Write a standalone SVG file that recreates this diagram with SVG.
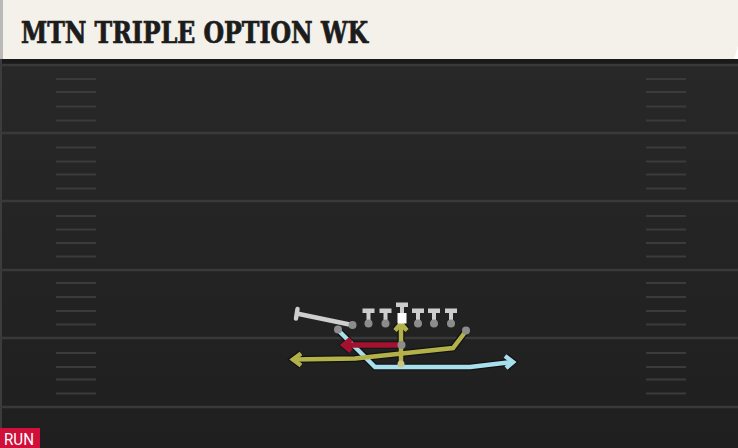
<svg xmlns="http://www.w3.org/2000/svg" width="738" height="448" viewBox="0 0 738 448">
<defs>
<linearGradient id="fieldGrad" x1="0" y1="0" x2="0" y2="1">
<stop offset="0" stop-color="#282828"/>
<stop offset="1" stop-color="#1f1f1f"/>
</linearGradient>
<style>
.yard{stroke:#393939;stroke-width:2.5}
.hash{stroke:#3b3b3b;stroke-width:2}
.route{fill:none;stroke-width:4.5;stroke-linejoin:miter;stroke-linecap:butt}
.under{fill:none;stroke:#121212;stroke-width:7;stroke-linecap:butt}
.yel{stroke:#b3b24a}
.blu{stroke:#a8dfec}
.red{stroke:#a3122f}
.blk{fill:none;stroke:#cfcfcf;stroke-width:4.5;stroke-linecap:round}
.dot{fill:#8c8c8c}
.tee{fill:#cdcdcd}
.title{font-family:"DejaVu Serif Condensed","DejaVu Serif",serif;font-weight:bold;font-size:29px;fill:#1c1c1c;stroke:#1c1c1c;stroke-width:0.7}
.tag{font-family:Roboto,"Liberation Sans",sans-serif;font-size:17px;fill:#ffffff}
</style>
</defs>
<g id="field">
<rect x="0" y="59" width="738" height="389" fill="url(#fieldGrad)"/>
<rect x="0" y="59" width="738" height="5" fill="#1a1a1a"/>
<rect x="0" y="59" width="2" height="389" fill="#3c3c3c"/>
<g class="yard">
<line x1="0" y1="65" x2="738" y2="65"/>
<line x1="0" y1="133" x2="738" y2="133"/>
<line x1="0" y1="201" x2="738" y2="201"/>
<line x1="0" y1="270" x2="738" y2="270"/>
<line x1="0" y1="338" x2="738" y2="338"/>
<line x1="0" y1="407" x2="738" y2="407"/>
</g>
<g class="hash">
<line x1="56" y1="79" x2="96" y2="79"/><line x1="56" y1="92" x2="96" y2="92"/><line x1="56" y1="106.5" x2="96" y2="106.5"/><line x1="56" y1="120.5" x2="96" y2="120.5"/>
<line x1="56" y1="147.5" x2="96" y2="147.5"/><line x1="56" y1="161.5" x2="96" y2="161.5"/><line x1="56" y1="174.5" x2="96" y2="174.5"/><line x1="56" y1="188.5" x2="96" y2="188.5"/>
<line x1="56" y1="216" x2="96" y2="216"/><line x1="56" y1="229.5" x2="96" y2="229.5"/><line x1="56" y1="243" x2="96" y2="243"/><line x1="56" y1="256.5" x2="96" y2="256.5"/>
<line x1="56" y1="283" x2="96" y2="283"/><line x1="56" y1="297" x2="96" y2="297"/><line x1="56" y1="311" x2="96" y2="311"/><line x1="56" y1="324.5" x2="96" y2="324.5"/>
<line x1="56" y1="353" x2="96" y2="353"/><line x1="56" y1="367" x2="96" y2="367"/><line x1="56" y1="379.5" x2="96" y2="379.5"/><line x1="56" y1="393.5" x2="96" y2="393.5"/>
<line x1="646" y1="79" x2="686" y2="79"/><line x1="646" y1="92" x2="686" y2="92"/><line x1="646" y1="106.5" x2="686" y2="106.5"/><line x1="646" y1="120.5" x2="686" y2="120.5"/>
<line x1="646" y1="147.5" x2="686" y2="147.5"/><line x1="646" y1="161.5" x2="686" y2="161.5"/><line x1="646" y1="174.5" x2="686" y2="174.5"/><line x1="646" y1="188.5" x2="686" y2="188.5"/>
<line x1="646" y1="216" x2="686" y2="216"/><line x1="646" y1="229.5" x2="686" y2="229.5"/><line x1="646" y1="243" x2="686" y2="243"/><line x1="646" y1="256.5" x2="686" y2="256.5"/>
<line x1="646" y1="283" x2="686" y2="283"/><line x1="646" y1="297" x2="686" y2="297"/><line x1="646" y1="311" x2="686" y2="311"/><line x1="646" y1="324.5" x2="686" y2="324.5"/>
<line x1="646" y1="353" x2="686" y2="353"/><line x1="646" y1="367" x2="686" y2="367"/><line x1="646" y1="379.5" x2="686" y2="379.5"/><line x1="646" y1="393.5" x2="686" y2="393.5"/>
</g>
</g>
<g id="header">
<polygon points="0,0 738,0 738,46 734,59 0,59" fill="#f4f1ea"/>
<rect x="0" y="0" width="3" height="59" fill="#b9b9b9"/>
<text class="title" x="21" y="43" textLength="347" lengthAdjust="spacingAndGlyphs">MTN TRIPLE OPTION WK</text>
</g>
<g id="connectors">
<polyline class="under" points="338,330 375,367 470,367 513,362"/>
<polyline class="under" points="505,356 513,362 506,368"/>
<polyline class="under" points="466,331 453,348 355,358.5 293,359.5"/>
<polyline class="under" points="301,353.5 293,359.5 301,365.5"/>
<line class="under" x1="401" y1="364" x2="401" y2="325"/>
<polyline class="under" points="395,330.5 401,323.5 407,330.5"/>
<line class="under" x1="401" y1="345" x2="345" y2="345"/>
<polyline class="under" points="351,339 344,345 351,351"/>
<polyline class="route blu" points="338,330 375,367 470,367 513,362"/>
<polyline class="route blu" points="505,356 513,362 506,368"/>
<polyline class="route yel" points="466,331 453,348 355,358.5 293,359.5"/>
<polyline class="route yel" points="301,353.5 293,359.5 301,365.5"/>
<line class="route yel" x1="401" y1="364" x2="401" y2="325"/>
<polyline class="route yel" points="395,330.5 401,323.5 407,330.5"/>
<line class="route red" x1="401" y1="345" x2="345" y2="345" style="stroke-width:5.5"/>
<polyline class="route red" points="351,339 344,345 351,351" style="stroke-width:5.5"/>
</g>
<g id="te">
<line class="blk" x1="352" y1="325" x2="299" y2="314"/>
<line class="blk" x1="297.5" y1="309" x2="296" y2="318.5"/>
<circle class="dot" cx="352.5" cy="325" r="4"/>
</g>
<g id="lt"><rect class="tee" x="362.5" y="308.5" width="12" height="4.5"/><rect class="tee" x="366.5" y="311" width="4" height="12"/><circle class="dot" cx="368.5" cy="323.5" r="4"/></g>
<g id="lg"><rect class="tee" x="379.5" y="308.5" width="12" height="4.5"/><rect class="tee" x="383.5" y="311" width="4" height="12"/><circle class="dot" cx="385.5" cy="323.5" r="4"/></g>
<g id="c"><rect class="tee" x="396" y="302.5" width="12" height="4.5"/><rect class="tee" x="400" y="305" width="4" height="9"/><rect x="397.5" y="313" width="9" height="10.5" fill="#ffffff"/></g>
<g id="rg"><rect class="tee" x="412" y="308.5" width="12" height="4.5"/><rect class="tee" x="416" y="311" width="4" height="12"/><circle class="dot" cx="418" cy="323.5" r="4"/></g>
<g id="rt"><rect class="tee" x="428" y="308.5" width="12" height="4.5"/><rect class="tee" x="432" y="311" width="4" height="12"/><circle class="dot" cx="434" cy="323.5" r="4"/></g>
<g id="te2"><rect class="tee" x="445" y="308.5" width="12" height="4.5"/><rect class="tee" x="449" y="311" width="4" height="12"/><circle class="dot" cx="451" cy="323.5" r="4"/></g>
<g id="wing"><circle class="dot" cx="338" cy="329.5" r="4"/></g>
<g id="slot"><circle class="dot" cx="466" cy="330.5" r="4"/></g>
<g id="qb"><circle class="dot" cx="401.5" cy="345" r="4"/></g>
<g id="fb"><circle cx="401" cy="364" r="3.5" fill="#c9c58a"/></g>
<g id="tag">
<rect x="0" y="428" width="40" height="20" fill="#d0103a"/>
<text class="tag" x="4" y="445" textLength="30" lengthAdjust="spacingAndGlyphs">RUN</text>
</g>
</svg>
